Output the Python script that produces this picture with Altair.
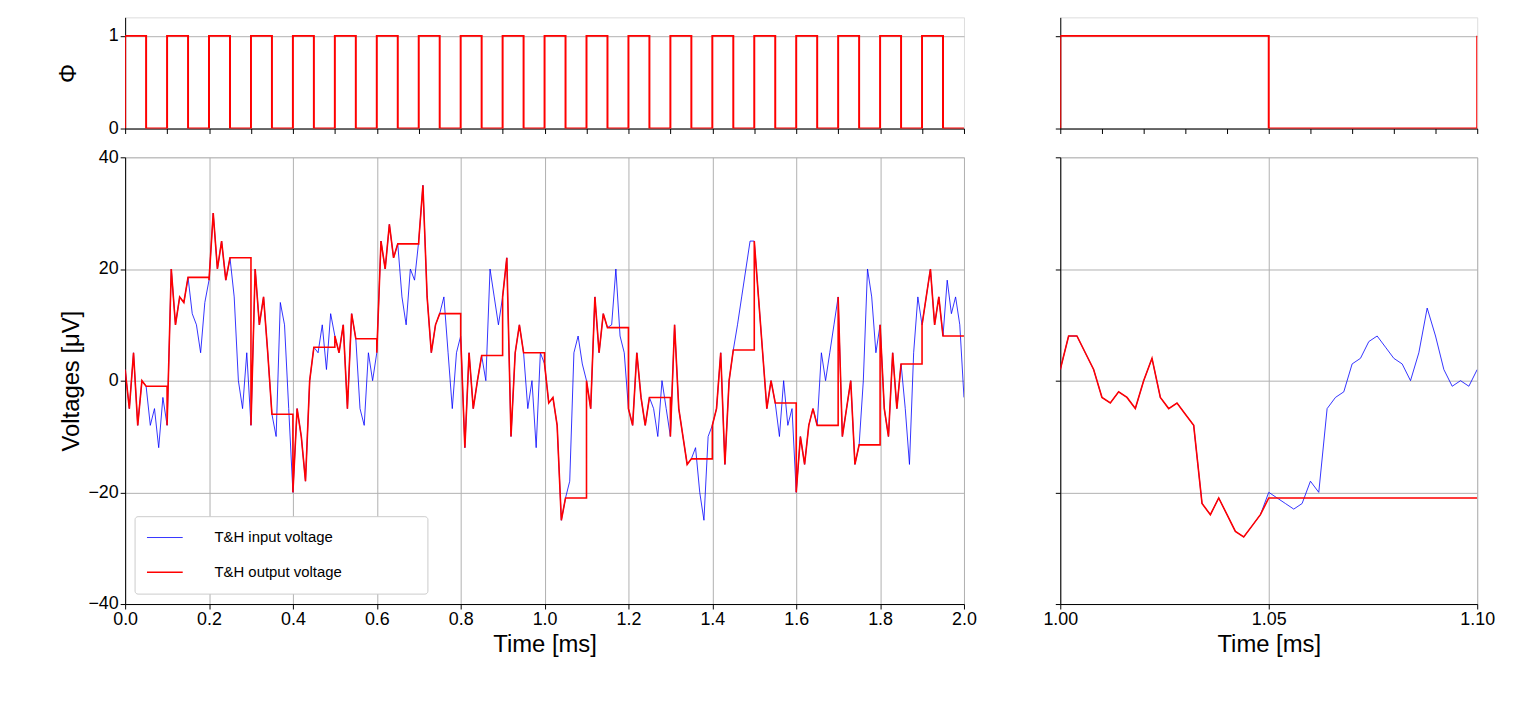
import altair as alt
import pandas as pd

# input voltage read at 0.01 ms steps, 0.00 .. 2.00 ms
vin = [2, -5, 5, -8, 0, -1, -8, -5, -12, -3, -8,
       20, 10, 15, 14, 18.5, 12, 10, 5, 14, 18,
       30, 20, 25, 18, 22, 15, 0, -5, 5, -8,
       20, 10, 15, 5, -6, -10, 14, 10, -5, -20,
       -5, -10, -18, 0, 6, 5, 10, 2, 12, 8,
       5, 10, -5, 12, 7.5, -5, -8, 5, 0, 5,
       25, 20, 28, 22, 24.5, 15, 10, 20, 18, 25,
       35, 15, 5, 10, 12, 15, 5, -5, 5, 8,
       -12, 5, -5, 0, 4.5, 0, 20, 15, 10, 15,
       22, -10, 5, 10, 5, -5, 0, -12, 5, 3,
       -4, -3, -8, -25, -21, -18, 5, 8, 3, 0,
       -5, 15, 5, 12, 9.5, 10, 20, 8, 5, -5,
       -8, 5, -3, -8, -3, -5, -10, 0, -5, -10,
       10, -5, -10, -15, -14, -12, -20, -25, -10, -8,
       -5, 5, -15, 0, 5.5, 10, 15, 20, 25, 25,
       15, 5, -5, 0, -4, -10, 0, -8, -5, -20,
       -10, -15, -8, -5, -8, 5, 0, 5, 10, 15,
       -10, -5, 0, -15, -11.5, 0, 20, 15, 5, 10,
       -5, -10, 5, -5, 3, -5, -15, 5, 15, 10,
       15, 20, 10, 15, 8, 18, 12, 15, 10, -3]
held = [-1, 18.5, 22, -6, 6, 7.5, 24.5, 12, 4.5, 5,
        -21, 9.5, -3, -14, 5.5, -4, -8, -11.5, 3, 8]

# zoom window 1.00 .. 1.10 ms at 0.002 ms steps
vin_zoom = [2, 8, 8, 5, 2, -3, -4, -2, -3, -5, 0, 4, -3, -5, -4, -6, -8,
            -22, -24, -21, -24, -27, -28, -26, -24, -20, -21, -22, -23, -22,
            -18, -20, -5, -3, -2, 3, 4, 7, 8, 6, 4, 3, 0, 5, 13, 8, 2, -1, 0,
            -1, 2]
held_zoom = -21

FONT = "Liberation Sans"
series = ["T&H input voltage", "T&H output voltage"]
colors = ["blue", "red"]

# main panel data
t = [round(i * 0.01, 2) for i in range(len(vin))]
rows = [{"t": a, "v": b, "s": series[0], "o": i} for i, (a, b) in enumerate(zip(t, vin))]
out = []
for k, h in enumerate(held):
    for j in range(6):
        idx = k * 10 + j
        out.append((t[idx], vin[idx] if j < 5 else h))
    out.append((round(k * 0.1 + 0.1, 2), h))
rows += [{"t": a, "v": b, "s": series[1], "o": i} for i, (a, b) in enumerate(out)]
main_df = pd.DataFrame(rows)

tz = [round(1 + i * 0.002, 3) for i in range(len(vin_zoom))]
zr = [{"t": a, "v": b, "s": series[0], "o": i} for i, (a, b) in enumerate(zip(tz, vin_zoom))]
zo = [(a, b) for a, b in zip(tz, vin_zoom) if a < 1.05] + [(1.05, held_zoom), (1.1, held_zoom)]
zr += [{"t": a, "v": b, "s": series[1], "o": i} for i, (a, b) in enumerate(zo)]
zoom_df = pd.DataFrame(zr)

phi_rows = []
for k in range(20):
    t0 = round(k * 0.1, 2)
    phi_rows += [(t0, 0), (t0, 1), (round(t0 + 0.05, 2), 1), (round(t0 + 0.05, 2), 0)]
phi_rows.append((2.0, 0))
phi_df = pd.DataFrame([{"t": a, "p": b, "o": i} for i, (a, b) in enumerate(phi_rows)])
phiz_df = pd.DataFrame({"t": [1.0, 1.0, 1.05, 1.05, 1.1, 1.1], "p": [0, 1, 1, 0, 0, 1],
                        "o": list(range(6))})

ax = dict(labelFontSize=18, titleFontSize=24, tickColor="black", domainColor="black",
          labelColor="black", titleColor="black", gridColor="#b0b0b0", tickSize=5,
          titleFontWeight="normal", labelFont=FONT, titleFont=FONT, labelFlush=False)

def phi_chart(df, dom, w, show_y):
    return alt.Chart(df).mark_line(color="red", strokeWidth=2, clip=True).encode(
        x=alt.X("t:Q", scale=alt.Scale(domain=dom, nice=False),
                axis=alt.Axis(labels=False, title=None, grid=False, **ax)),
        y=alt.Y("p:Q", scale=alt.Scale(domain=[0, 1.2], nice=False),
                axis=alt.Axis(values=[0, 1], format="d", labels=show_y,
                              title="Φ" if show_y else None, titlePadding=28, **ax)),
        order="o:Q",
    ).properties(width=w, height=112)

def volt_chart(df, dom, w, show_y, xvals, fmt):
    base = alt.Chart(df).encode(
        x=alt.X("t:Q", scale=alt.Scale(domain=dom, nice=False),
                axis=alt.Axis(values=xvals, format=fmt, title="Time [ms]", **ax)),
        y=alt.Y("v:Q", scale=alt.Scale(domain=[-40, 40], nice=False),
                axis=alt.Axis(values=[-40, -20, 0, 20, 40], labels=show_y,
                              title="Voltages [μV]" if show_y else None, **ax)),
        order="o:Q",
        color=alt.Color("s:N", scale=alt.Scale(domain=series, range=colors), legend=None),
    )
    blue = base.transform_filter(alt.datum.s == series[0]).mark_line(strokeWidth=0.8, clip=True)
    red = base.transform_filter(alt.datum.s == series[1]).mark_line(strokeWidth=1.6, clip=True)
    layers = [blue, red]
    if show_y:
        one = pd.DataFrame({"k": [0]})
        box = alt.Chart(one).mark_rect(fill="white", stroke="#cccccc", cornerRadius=3).encode(
            x=alt.value(10), x2=alt.value(305), y=alt.value(362), y2=alt.value(440))
        leg = []
        for i, (name, c, sw) in enumerate(zip(series, colors, [0.8, 1.6])):
            yy = 383 + 35 * i
            leg.append(alt.Chart(one).mark_rule(color=c, strokeWidth=sw).encode(
                x=alt.value(22), x2=alt.value(58), y=alt.value(yy)))
            leg.append(alt.Chart(one).mark_text(
                text=name, align="left", baseline="middle", fontSize=15, font=FONT,
                color="black").encode(x=alt.value(90), y=alt.value(yy)))
        layers += [box] + leg
    return alt.layer(*layers).properties(width=w, height=450)

chart = alt.concat(
    phi_chart(phi_df, [0, 2], 845, True),
    phi_chart(phiz_df, [1.0, 1.1], 420, False),
    volt_chart(main_df, [0, 2], 845, True, [round(i * 0.2, 1) for i in range(11)], ".1f"),
    volt_chart(zoom_df, [1.0, 1.1], 420, False, [1.0, 1.05, 1.1], ".2f"),
    columns=2, spacing={"row": 9, "column": 64},
).properties(align="each", padding={"left": 48, "top": 6, "right": 10, "bottom": 5}
).configure_view(stroke="black", strokeWidth=1.2).configure(font=FONT)
chart.save("out.html", embed_options={"renderer": "svg", "actions": False})
